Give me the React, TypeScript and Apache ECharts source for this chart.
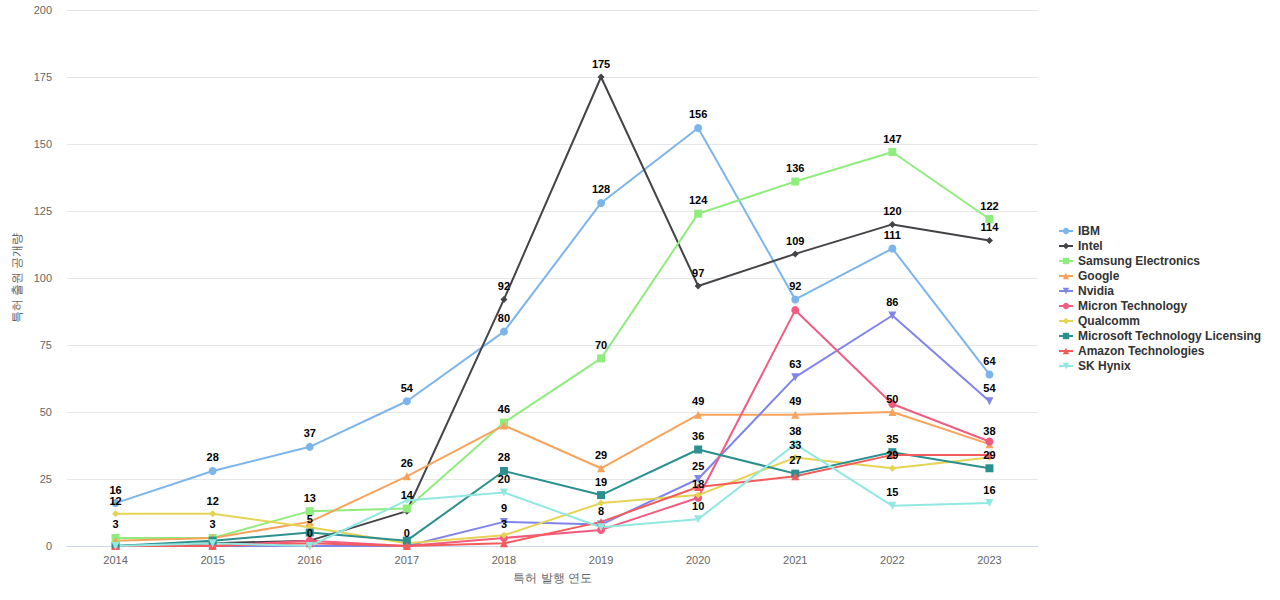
import React, { useEffect, useRef } from "react";
import * as echarts from "echarts";

const years = ["2014", "2015", "2016", "2017", "2018", "2019", "2020", "2021", "2022", "2023"];

const ibm = [16, 28, 37, 54, 80, 128, 156, 92, 111, 64];
const intel = [0, 1, 2, 13, 92, 175, 97, 109, 120, 114];
const samsung = [3, 3, 13, 14, 46, 70, 124, 136, 147, 122];
const google = [2, 3, 9, 26, 45, 29, 49, 49, 50, 38];
const nvidia = [0, 0, 0, 0, 9, 8, 25, 63, 86, 54];
const micron = [0, 0, 2, 0, 3, 6, 18, 88, 53, 39];
const qualcomm = [12, 12, 7, 1, 4, 16, 19, 33, 29, 33];
const microsoft = [0, 2, 5, 2, 28, 19, 36, 27, 35, 29];
const amazon = [0, 0, 1, 0, 1, 9, 22, 26, 34, 34];
const skhynix = [0, 1, 0, 17, 20, 7, 10, 38, 15, 16];

const seriesNames = [
  "IBM",
  "Intel",
  "Samsung Electronics",
  "Google",
  "Nvidia",
  "Micron Technology",
  "Qualcomm",
  "Microsoft Technology Licensing",
  "Amazon Technologies",
  "SK Hynix",
];
const seriesData = [ibm, intel, samsung, google, nvidia, micron, qualcomm, microsoft, amazon, skhynix];
const colors = ["#7cb5ec", "#434348", "#90ed7d", "#f7a35c", "#8085e9", "#f15c80", "#e4d354", "#2b908f", "#f45b5b", "#91e8e1"];
const symbols = ["circle", "diamond", "rect", "triangle", "path://M0,0 L10,0 L5,10 Z", "circle", "diamond", "rect", "triangle", "path://M0,0 L10,0 L5,10 Z"];
const symbolSizes = [8, 7, 8, 8, 8, 8, 7, 8, 8, 8];

export default function App() {
  const ref = useRef<HTMLDivElement>(null);
  useEffect(() => {
    if (!ref.current) return;
    const chart = echarts.init(ref.current, undefined, { renderer: "svg" });
    chart.setOption({
      animation: false,
      color: colors,
      textStyle: { fontFamily: "Liberation Sans, Arial, sans-serif" },
      grid: { left: 67, right: 242, top: 10, bottom: 54 },
      legend: {
        orient: "vertical",
        left: 1053,
        top: 220,
        itemWidth: 14,
        itemHeight: 8,
        itemGap: 3,
        textStyle: { fontWeight: "bold", fontSize: 12, color: "#333" },
        data: seriesNames,
      },
      xAxis: {
        type: "category",
        data: years,
        name: "특허 발행 연도",
        nameLocation: "middle",
        nameGap: 26,
        nameTextStyle: { color: "#666", fontSize: 12 },
        axisLine: { lineStyle: { color: "#ccd6eb" } },
        axisTick: { show: false },
        axisLabel: { color: "#666", fontSize: 11 },
      },
      yAxis: {
        type: "value",
        min: 0,
        max: 200,
        interval: 25,
        name: "특허 출원 공개량",
        nameLocation: "middle",
        nameGap: 44,
        nameRotate: 90,
        nameTextStyle: { color: "#666", fontSize: 12 },
        axisLine: { show: false },
        axisTick: { show: false },
        axisLabel: { color: "#666", fontSize: 11, margin: 15 },
        splitLine: { lineStyle: { color: "#e6e6e6" } },
      },
      series: seriesNames.map((name, i) => ({
        name,
        type: "line",
        data: seriesData[i],
        symbol: symbols[i],
        symbolSize: symbolSizes[i],
        showAllSymbol: true,
        lineStyle: { width: 2 },
        label: {
          show: true,
          position: "top",
          distance: 4,
          color: "#000",
          fontWeight: "bold",
          fontSize: 11,
        },
        labelLayout: { hideOverlap: true },
      })),
    });
    return () => chart.dispose();
  }, []);
  return <div ref={ref} style={{ position: "absolute", left: 0, top: 0, width: 1280, height: 600 }} />;
}
